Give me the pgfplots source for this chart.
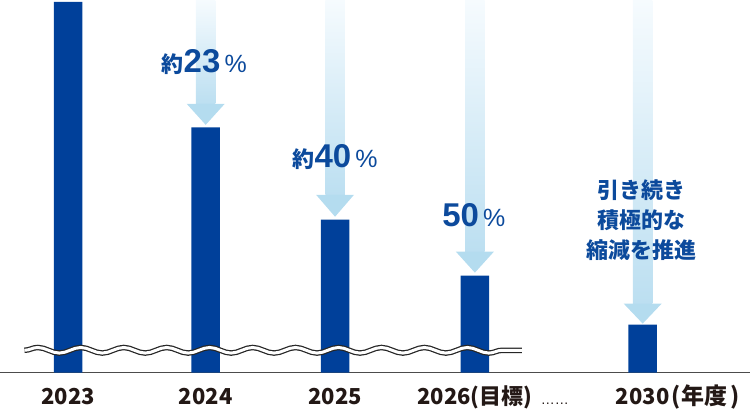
\documentclass[border=0pt]{standalone}
\usepackage{fontspec}
\setmainfont{Liberation Sans}
\newfontfamily\cjk{Noto Sans CJK JP}
\usepackage{pgfplots}
\pgfplotsset{compat=1.18}
\usetikzlibrary{decorations.pathmorphing}

\definecolor{barblue}{HTML}{00409A}
\definecolor{txtblue}{HTML}{0C4A9C}
\definecolor{arrtop}{HTML}{F6FBFE}
\definecolor{arrbot}{HTML}{BCDFF1}
\definecolor{arrhead}{HTML}{B4DCEF}
\definecolor{labelgray}{HTML}{231815}

% shaft left/right, head left/right, centre, head top, tip
\newcommand\reduction[7]{%
  \shade[top color=arrtop, bottom color=arrbot]
    (axis cs:#1,373) rectangle (axis cs:#2,#6);
  \fill[arrhead] (axis cs:#3,#6) -- (axis cs:#4,#6) -- (axis cs:#5,#7) -- cycle;
}
\newcommand\bignum[1]{{\bfseries\fontsize{33}{33}\selectfont #1}}
\newcommand\pct{{\fontsize{25}{25}\selectfont\,\%}}
\newcommand\yaku{{\cjk\bfseries\fontsize{22}{22}\selectfont 約}}

\begin{document}
\begin{tikzpicture}
\begin{axis}[
	x=1pt, y=1pt,
	xmin=0, xmax=750,
	ymin=-35, ymax=373,
	clip=false,
	axis x line=middle,
	axis y line=none,
	axis line style={-, draw=black!70, line width=0.9pt},
	xtick={67.7,205.5,335,475,643},
	xticklabels={2023,2024,2025,{2026(目標)},2030},
	major tick length=0pt,
	ytick=\empty,
	xticklabel style={font=\cjk\bfseries\fontsize{22}{22}\selectfont,
		text=labelgray, anchor=base, inner sep=0pt, yshift=-32pt},
]
	\reduction{195.75}{215.25}{186.5}{224.5}{205.5}{269}{248}
	\reduction{325.25}{344.75}{316}{354}{335}{178}{156}
	\reduction{465.25}{484.75}{456}{494}{475}{121}{100}
	\reduction{633.25}{652.75}{624}{662}{643}{69}{49}

	\addplot[ybar, bar width=28.5pt, fill=barblue, draw=none]
		coordinates {(67.7,371) (205.5,245.5) (335,153) (475,97) (643,48)};

	\draw[decorate, decoration={snake, segment length=43pt, amplitude=2.8pt},
		line width=5.5pt, black!85] (axis cs:24,22.3) -- (axis cs:522,22.3);
	\draw[decorate, decoration={snake, segment length=43pt, amplitude=2.8pt},
		line width=3pt, white] (axis cs:24,22.3) -- (axis cs:522,22.3);

	\node[anchor=base, inner sep=0pt, text=txtblue] at (axis cs:204,300)
		{\yaku\bignum{23}\pct};
	\node[anchor=base, inner sep=0pt, text=txtblue] at (axis cs:335,205)
		{\yaku\bignum{40}\pct};
	\node[anchor=base, inner sep=0pt, text=txtblue] at (axis cs:474,146)
		{\bignum{50}\pct};
	\node[align=center, inner sep=0pt, text=txtblue,
		font=\cjk\bfseries\fontsize{22}{30}\selectfont] at (axis cs:642,153)
		{引き続き\\積極的な\\縮減を推進};

	\node[anchor=base, inner sep=0pt, text=labelgray,
		font=\fontsize{14}{14}\selectfont] at (axis cs:555,-32) {……};
	\node[anchor=base west, inner sep=0pt, text=labelgray,
		font=\cjk\bfseries\fontsize{23}{23}\selectfont] at (axis cs:672,-32) {(年度\,)};
\end{axis}
\end{tikzpicture}
\end{document}
